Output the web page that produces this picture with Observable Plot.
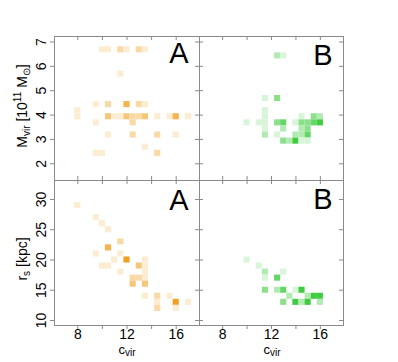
<!DOCTYPE html>
<html>
<head>
<meta charset="utf-8">
<script src="https://cdn.jsdelivr.net/npm/d3@7"></script>
<script src="https://cdn.jsdelivr.net/npm/@observablehq/plot@0.6"></script>
<style>
  html, body { margin: 0; padding: 0; background: white; }
  #chart { position: relative; width: 398px; height: 362px; overflow: hidden; }
</style>
</head>
<body>
<div id="chart"></div>
<script>
// ---- tick values / labels ----
const cvirTicks = [8, 10, 12, 14, 16];
const cvirLabels = [8, 12, 16];
const mvirTicks = [2, 3, 4, 5, 6, 7];
const rsTicks = [10, 15, 20, 25, 30];

// ---- 2D histogram cells: [c_vir bin centre, y bin centre, count] ----
const massA = [
  [10.0, 6.68, 1], [10.5, 6.68, 1], [11.5, 6.68, 2], [12.0, 6.68, 1], [13.0, 6.68, 2], [13.5, 6.68, 1],
  [11.5, 5.68, 1],
  [9.5, 4.43, 1], [10.5, 4.43, 2], [12.0, 4.43, 4], [13.0, 4.43, 2], [13.5, 4.43, 1],
  [8.0, 4.18, 1],
  [8.0, 3.93, 1], [10.5, 3.93, 3], [11.0, 3.93, 1], [11.5, 3.93, 1], [12.0, 3.93, 3], [12.5, 3.93, 2],
  [13.0, 3.93, 2], [13.5, 3.93, 3], [14.5, 3.93, 1], [15.5, 3.93, 1], [16.0, 3.93, 4], [17.0, 3.93, 1],
  [9.5, 3.68, 1], [12.5, 3.68, 2],
  [10.5, 3.18, 1], [12.5, 3.18, 2], [14.5, 3.18, 2], [16.0, 3.18, 1],
  [13.5, 2.68, 1],
  [9.5, 2.43, 1], [10.0, 2.43, 1], [14.5, 2.43, 2]
];
const massB = [
  [12.5, 6.43, 2], [13.0, 6.43, 1],
  [11.5, 4.68, 1], [12.5, 4.68, 3],
  [11.5, 4.18, 1],
  [11.5, 3.93, 1], [14.5, 3.93, 1], [15.5, 3.93, 3], [16.0, 3.93, 2],
  [10.0, 3.68, 1], [11.0, 3.68, 1], [11.5, 3.68, 1], [12.5, 3.68, 3], [13.0, 3.68, 4], [14.0, 3.68, 1],
  [14.5, 3.68, 3], [15.0, 3.68, 3], [15.5, 3.68, 4], [16.0, 3.68, 5],
  [11.5, 3.43, 1], [13.0, 3.43, 2], [14.5, 3.43, 2], [15.0, 3.43, 3],
  [11.5, 3.18, 2], [12.5, 3.18, 1], [14.0, 3.18, 2], [14.5, 3.18, 2], [15.0, 3.18, 4],
  [13.0, 2.93, 3], [13.5, 2.93, 2], [14.0, 2.93, 5], [14.5, 2.93, 1], [15.0, 2.93, 1]
];
const rsA = [
  [8.0, 29, 1],
  [9.5, 27, 1], [10.0, 26, 1], [10.5, 25, 1],
  [11.5, 23, 2],
  [10.5, 22, 4],
  [9.5, 21, 1], [11.5, 21, 1],
  [11.0, 20, 1], [12.0, 20, 5], [13.5, 20, 1],
  [10.0, 19, 1], [10.5, 19, 1], [13.0, 19, 3], [13.5, 19, 1],
  [11.5, 18, 1], [13.5, 18, 1],
  [12.5, 17, 2], [13.0, 17, 2], [13.5, 17, 1],
  [12.5, 16, 3], [13.5, 16, 3],
  [13.5, 14, 1], [14.5, 14, 2], [15.5, 14, 1],
  [14.5, 13, 1], [16.0, 13, 5], [17.0, 13, 1],
  [14.5, 12, 2], [16.0, 12, 1]
];
const rsB = [
  [10.0, 20, 1],
  [11.0, 19, 1],
  [11.5, 18, 2], [13.0, 18, 1],
  [11.5, 17, 1], [12.5, 17, 4],
  [11.5, 15, 3], [12.5, 15, 2], [13.0, 15, 4], [14.0, 15, 1], [14.5, 15, 5],
  [13.5, 14, 2], [15.0, 14, 2], [15.5, 14, 5], [16.0, 14, 5],
  [13.0, 13, 3], [14.0, 13, 5], [14.5, 13, 2], [15.0, 13, 5], [16.0, 13, 2]
];

const ORANGE = "#f0a020";
const GREEN = "#3fcc3f";
const FRAME = "#8a8a8a";
const W = 398, H = 362;

function panel({cells, color, L, R, T, B, yDomain, yTicks, rowH, letter, letterDy,
                leftOut, showY, showX}) {
  const iw = R - L, ih = B - T;
  const marks = [
    Plot.rect(cells, {
      x1: d => d[0] - 0.25, x2: d => d[0] + 0.25,
      y1: d => d[1] - rowH / 2, y2: d => d[1] + rowH / 2,
      fill: d => d[2]
    }),
    Plot.frame({stroke: FRAME}),
    // top ticks (inward)
    Plot.ruleX(cvirTicks, {x: d => d, insetBottom: ih - 4, stroke: FRAME}),
    // right ticks (inward)
    Plot.ruleY(yTicks, {y: d => d, insetLeft: iw - 4, stroke: FRAME}),
    // left ticks
    leftOut
      ? Plot.ruleY(yTicks, {y: d => d, insetLeft: -4, insetRight: iw, stroke: FRAME})
      : Plot.ruleY(yTicks, {y: d => d, insetRight: iw - 4, stroke: FRAME}),
    // bottom ticks
    showX
      ? Plot.ruleX(cvirTicks, {x: d => d, insetTop: ih, insetBottom: -4, stroke: FRAME})
      : Plot.ruleX(cvirTicks, {x: d => d, insetTop: ih - 4, stroke: FRAME}),
    Plot.text([letter], {text: d => d, frameAnchor: "top-right", dx: -11, dy: letterDy,
      lineAnchor: "top", fontSize: 29, fill: "black"})
  ];
  if (showY) marks.push(Plot.text(yTicks, {y: d => d, text: d => String(d), frameAnchor: "left",
    dx: -13, rotate: -90, textAnchor: "middle", lineAnchor: "middle", fontSize: 14, fill: "black"}));
  if (showX) marks.push(Plot.text(cvirLabels, {x: d => d, text: d => String(d), frameAnchor: "bottom",
    dy: 4, textAnchor: "middle", lineAnchor: "top", fontSize: 14, fill: "black"}));
  return Plot.plot({
    width: W, height: H,
    marginLeft: L, marginRight: W - R, marginTop: T, marginBottom: H - B,
    x: {domain: [6.105, 17.895], axis: null},
    y: {domain: yDomain, axis: null},
    color: {type: "linear", domain: [0, 5], range: ["#ffffff", color]},
    style: {position: "absolute", left: "0px", top: "0px", background: "transparent",
            overflow: "visible", fontFamily: "'Liberation Sans', Arial, sans-serif"},
    marks
  });
}

const chart = document.getElementById("chart");
chart.append(panel({cells: massA, color: ORANGE, L: 54, R: 199, T: 36, B: 180,
  yDomain: [1.314, 7.226], yTicks: mvirTicks, rowH: 0.25, letter: "A", letterDy: 6,
  leftOut: true, showY: true, showX: false}));
chart.append(panel({cells: massB, color: GREEN, L: 199, R: 343, T: 36, B: 180,
  yDomain: [1.314, 7.226], yTicks: mvirTicks, rowH: 0.25, letter: "B", letterDy: 8,
  leftOut: false, showY: false, showX: false}));
chart.append(panel({cells: rsA, color: ORANGE, L: 54, R: 199, T: 180, B: 325,
  yDomain: [9.17, 33.14], yTicks: rsTicks, rowH: 1, letter: "A", letterDy: 9,
  leftOut: true, showY: true, showX: true}));
chart.append(panel({cells: rsB, color: GREEN, L: 199, R: 343, T: 180, B: 325,
  yDomain: [9.17, 33.14], yTicks: rsTicks, rowH: 1, letter: "B", letterDy: 8,
  leftOut: false, showY: false, showX: true}));

// ---- axis titles ----
const svg = d3.select(chart).append("svg")
  .attr("width", W).attr("height", H)
  .style("position", "absolute").style("left", "0px").style("top", "0px")
  .style("font-family", "'Liberation Sans', Arial, sans-serif");

function cvir(x) {
  const t = svg.append("text").attr("x", x).attr("y", 354).attr("text-anchor", "middle")
    .attr("font-size", 13);
  t.append("tspan").text("c");
  t.append("tspan").attr("font-size", 10).attr("dy", 2).text("vir");
}
cvir(127);
cvir(272);

const my = svg.append("text").attr("transform", "translate(27,106) rotate(-90)")
  .attr("text-anchor", "middle").attr("font-size", 14);
my.append("tspan").text("M");
my.append("tspan").attr("font-size", 10).attr("dy", 3).text("vir");
my.append("tspan").attr("dy", -3).text(" [10");
my.append("tspan").attr("font-size", 10).attr("dy", -6).text("11");
my.append("tspan").attr("dy", 6).text(" M");
my.append("tspan").attr("font-size", 10).attr("dy", 3).text("⊙");
my.append("tspan").attr("dy", -3).text("]");

const ry = svg.append("text").attr("transform", "translate(27,259) rotate(-90)")
  .attr("text-anchor", "middle").attr("font-size", 14);
ry.append("tspan").text("r");
ry.append("tspan").attr("font-size", 10).attr("dy", 3).text("s");
ry.append("tspan").attr("dy", -3).text(" [kpc]");
</script>
</body>
</html>
